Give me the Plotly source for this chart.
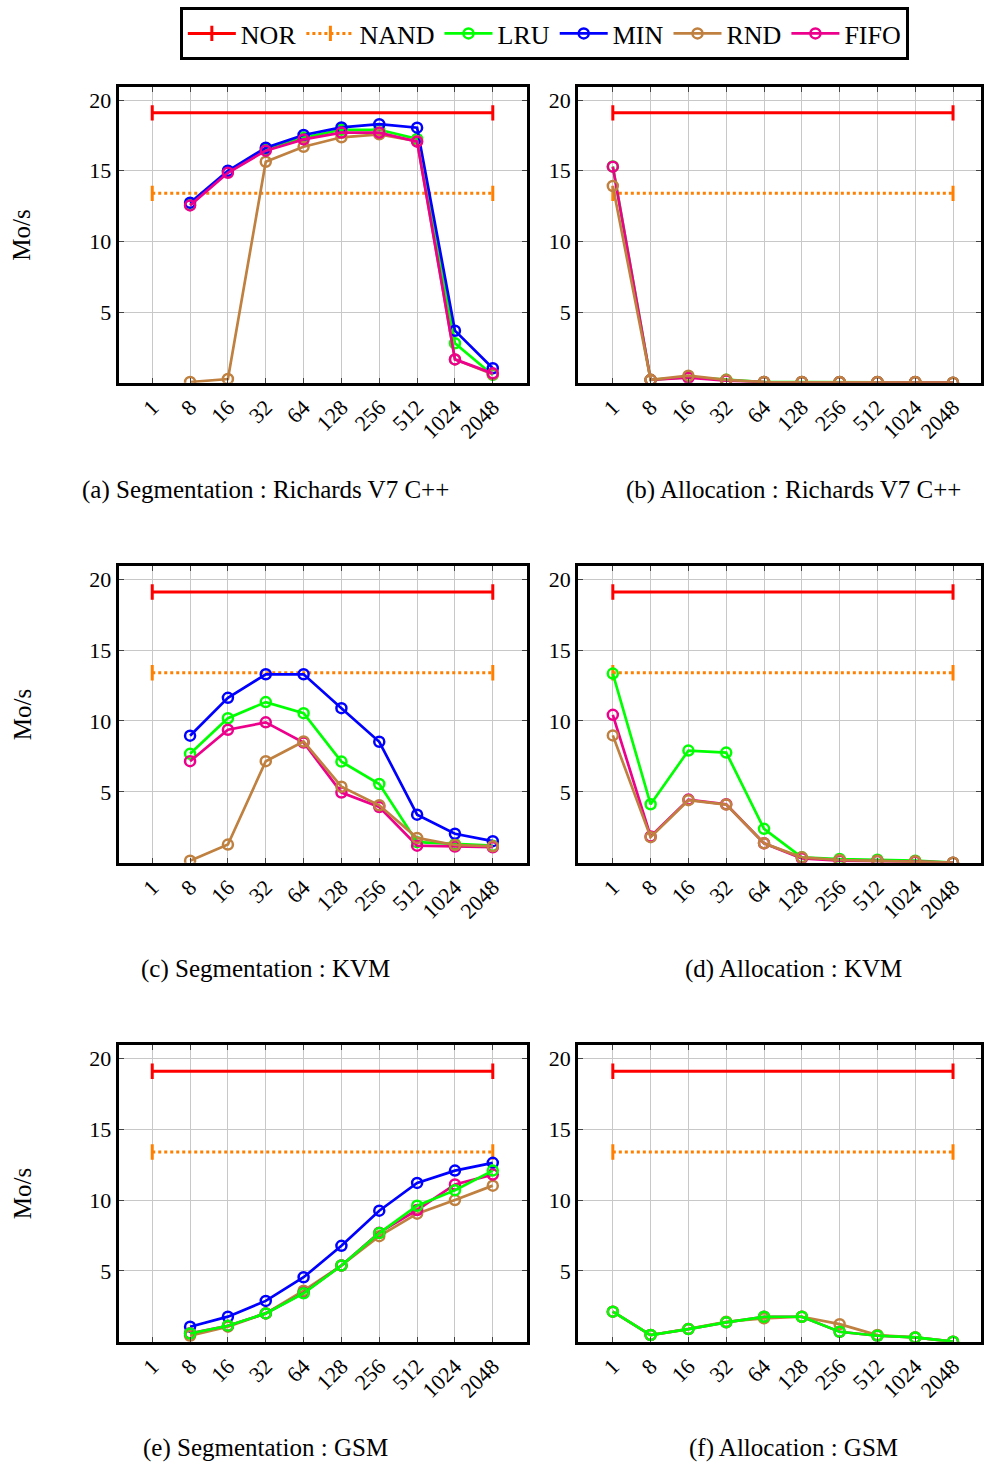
import plotly.graph_objects as go

# ---------------- data ----------------
block_sizes = ["1", "8", "16", "32", "64", "128", "256", "512", "1024", "2048"]
nor_level = 19.1
nand_level = 13.4

# (a) Segmentation : Richards V7 C++
a_lru = [None, 12.6, 14.95, 16.5, 17.35, 17.9, 17.9, 17.25, 2.79, 0.55]
a_min = [None, 12.74, 15.0, 16.63, 17.53, 18.07, 18.3, 18.05, 3.68, 1.02]
a_rnd = [None, 0.05, 0.26, 15.64, 16.7, 17.37, 17.58, 17.1, 1.65, 0.6]
a_fifo = [None, 12.55, 14.86, 16.42, 17.22, 17.7, 17.7, 17.06, 1.65, 0.66]

# (b) Allocation : Richards V7 C++
b_lru = [15.3, 0.2, 0.4, 0.2, 0.05, 0.05, 0.05, 0.05, 0.05, 0.0]
b_rnd = [13.92, 0.2, 0.5, 0.2, 0.05, 0.05, 0.05, 0.05, 0.05, 0.0]
b_fifo = [15.29, 0.2, 0.35, 0.15, 0.05, 0.05, 0.05, 0.05, 0.05, 0.0]

# (c) Segmentation : KVM
c_lru = [None, 7.68, 10.19, 11.33, 10.55, 7.13, 5.55, 1.45, 1.3, 1.2]
c_min = [None, 8.96, 11.63, 13.29, 13.29, 10.9, 8.53, 3.39, 2.04, 1.52]
c_rnd = [None, 0.14, 1.28, 7.16, 8.55, 5.36, 4.05, 1.75, 1.25, 1.16]
c_fifo = [None, 7.16, 9.38, 9.9, 8.48, 4.95, 3.93, 1.2, 1.14, 1.09]

# (d) Allocation : KVM
d_lru = [13.34, 4.12, 7.91, 7.77, 2.39, 0.38, 0.26, 0.21, 0.14, 0.0]
d_rnd = [8.98, 1.8, 4.41, 4.1, 1.37, 0.38, 0.19, 0.14, 0.1, 0.0]
d_fifo = [10.43, 1.85, 4.45, 4.12, 1.37, 0.31, 0.14, 0.12, 0.07, 0.0]

# (e) Segmentation : GSM
e_lru = [None, 0.58, 1.13, 2.0, 3.42, 5.38, 7.67, 9.6, 10.7, 12.08]
e_min = [None, 1.06, 1.77, 2.88, 4.55, 6.77, 9.25, 11.21, 12.08, 12.63]
e_rnd = [None, 0.42, 1.06, 2.0, 3.6, 5.38, 7.45, 9.04, 10.0, 11.02]
e_fifo = [None, 0.6, 1.13, 2.0, 3.45, 5.38, 7.7, 9.3, 11.1, 11.8]

# (f) Allocation : GSM
f_lru = [2.12, 0.47, 0.89, 1.37, 1.76, 1.76, 0.7, 0.42, 0.3, 0.0]
f_rnd = [2.12, 0.47, 0.9, 1.41, 1.65, 1.76, 1.24, 0.47, 0.3, 0.0]
f_fifo = [2.12, 0.47, 0.89, 1.37, 1.76, 1.76, 0.7, 0.42, 0.3, 0.0]

captions = [
    "(a) Segmentation : Richards V7 C++",
    "(b) Allocation : Richards V7 C++",
    "(c) Segmentation : KVM",
    "(d) Allocation : KVM",
    "(e) Segmentation : GSM",
    "(f) Allocation : GSM",
]

# ---------------- styles ----------------
COL = {"NOR": "#ff0000", "NAND": "#ff8000", "LRU": "#00ff00",
       "MIN": "#0000ff", "RND": "#bf8040", "FIFO": "#ec008c"}
RANK = {"NOR": 1, "NAND": 2, "LRU": 3, "MIN": 4, "RND": 5, "FIFO": 6}
FONT = "Liberation Serif"
W, H = 984, 1465

# panels: (series list in drawing order, column, row)
panels = [
    ([("LRU", a_lru), ("MIN", a_min), ("RND", a_rnd), ("FIFO", a_fifo)], 0, 0),
    ([("LRU", b_lru), ("FIFO", b_fifo), ("RND", b_rnd)], 1, 0),
    ([("LRU", c_lru), ("MIN", c_min), ("FIFO", c_fifo), ("RND", c_rnd)], 0, 1),
    ([("LRU", d_lru), ("FIFO", d_fifo), ("RND", d_rnd)], 1, 1),
    ([("MIN", e_min), ("RND", e_rnd), ("FIFO", e_fifo), ("LRU", e_lru)], 0, 2),
    ([("FIFO", f_fifo), ("RND", f_rnd), ("LRU", f_lru)], 1, 2),
]

col_px = [(119, 528.3), (580, 984)]
col_range = [(-0.888, 9.896), (-0.915, 9.74)]
row_px = [(86.7, 382.7), (565.7, 862.7), (1045, 1341.7)]
caption_x = [266, 796]
caption_y = [490, 969, 1448]

fig = go.Figure()
shown = set()

for i, (series, c, r) in enumerate(panels):
    k = "" if i == 0 else str(i + 1)
    xa, ya = "x" + k, "y" + k
    # NOR and NAND reference lines (from first to last block size)
    ends = [block_sizes[0], block_sizes[-1]]
    for name, lvl, dash in [("NOR", nor_level, "solid"), ("NAND", nand_level, "dot")]:
        fig.add_trace(go.Scatter(
            x=ends, y=[lvl, lvl], xaxis=xa, yaxis=ya,
            mode="lines+markers", name=name, legendrank=RANK[name],
            showlegend=name not in shown,
            line=dict(color=COL[name], width=3, dash=dash),
            marker=dict(symbol="line-ns", size=11, color=COL[name],
                        line=dict(color=COL[name], width=3)),
        ))
        shown.add(name)
    for name, vals in series:
        fig.add_trace(go.Scatter(
            x=block_sizes, y=vals, xaxis=xa, yaxis=ya,
            mode="lines+markers", name=name, legendrank=RANK[name],
            showlegend=name not in shown,
            line=dict(color=COL[name], width=2.7),
            marker=dict(symbol="circle-open", size=10, color=COL[name],
                        line=dict(color=COL[name], width=2.5)),
        ))
        shown.add(name)

    x0, x1 = col_px[c]
    y0, y1 = row_px[r]
    axis_common = dict(showline=True, linecolor="black", linewidth=3, mirror="allticks",
                       ticks="inside", ticklen=5, tickcolor="#444", tickwidth=1,
                       showgrid=True, gridcolor="#c8c8c8", gridwidth=1, zeroline=False,
                       tickfont=dict(family=FONT, size=22, color="black"))
    fig.update_layout({
        "xaxis" + k: dict(domain=[x0 / W, x1 / W], anchor=ya, type="category",
                          range=list(col_range[c]), tickangle=-45,
                          categoryorder="array", categoryarray=block_sizes,
                          **axis_common),
        "yaxis" + k: dict(domain=[1 - y1 / H, 1 - y0 / H], anchor=xa,
                          range=[0, 20.95], tickvals=[5, 10, 15, 20],
                          **axis_common),
    })
    fig.add_annotation(x=caption_x[c] / W, y=1 - caption_y[r] / H, xref="paper", yref="paper",
                       text=captions[i], showarrow=False, xanchor="center", yanchor="middle",
                       font=dict(family=FONT, size=25, color="black"))
    if c == 0:
        fig.add_annotation(x=22 / W, y=1 - ((y0 + y1) / 2) / H, xref="paper", yref="paper",
                           text="Mo/s", textangle=-90, showarrow=False,
                           xanchor="center", yanchor="middle",
                           font=dict(family=FONT, size=25, color="black"))

fig.update_layout(
    width=W, height=H, margin=dict(l=0, r=0, t=0, b=0),
    plot_bgcolor="white", paper_bgcolor="white",
    legend=dict(orientation="h", x=546 / W, y=1 - 7 / H, xanchor="center", yanchor="top",
                bordercolor="black", borderwidth=3, bgcolor="white",
                font=dict(family=FONT, size=26, color="black"),
                itemwidth=48, tracegroupgap=0, traceorder="normal"),
)

fig.write_html("out.html")
